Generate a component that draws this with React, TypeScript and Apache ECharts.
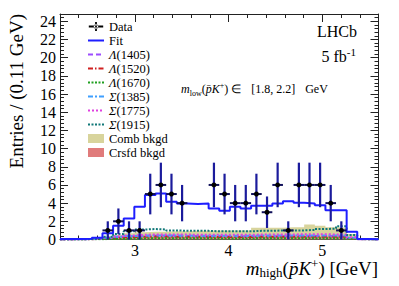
import React, { useEffect, useRef } from 'react';
import * as echarts from 'echarts';

// ---- binning ----
const X_MIN = 2.2;
const X_MAX = 5.6;
const N_BINS = 30;
const Y_MAX = 24.8;
const BIN_W = (X_MAX - X_MIN) / N_BINS;

// ---- data (per bin, 30 bins) ----
const dataCounts = [0, 0, 0, 0, 1, 2, 1, 1, 5, 6, 5, 4, 0, 0, 6, 5, 4, 4, 5, 3, 6, 1, 6, 6, 6, 4, 1, 0, 0, 0];
const fitValues = [0.05, 0.05, 0.08, 0.2, 0.7, 1.5, 2.3, 3.6, 4.9, 5.05, 4.15, 3.95, 3.9, 3.96, 3.41, 3.15, 3.6, 3.4, 3.7, 3.72, 3.96, 4.2, 4.03, 3.96, 3.77, 3.23, 3.23, 0.85, 0.05, 0.02];
const lambda1405 = [0.01, 0.02, 0.04, 0.08, 0.18, 0.28, 0.35, 0.4, 0.42, 0.42, 0.4, 0.38, 0.37, 0.36, 0.35, 0.35, 0.35, 0.35, 0.36, 0.36, 0.37, 0.37, 0.38, 0.38, 0.38, 0.37, 0.36, 0.15, 0.02, 0.01];
const lambda1520 = [0.01, 0.02, 0.03, 0.07, 0.15, 0.22, 0.28, 0.3, 0.32, 0.32, 0.31, 0.3, 0.29, 0.29, 0.28, 0.28, 0.28, 0.28, 0.29, 0.29, 0.3, 0.3, 0.3, 0.31, 0.31, 0.3, 0.29, 0.12, 0.02, 0.01];
const lambda1670 = [0.01, 0.01, 0.02, 0.03, 0.06, 0.09, 0.11, 0.12, 0.13, 0.13, 0.13, 0.13, 0.13, 0.13, 0.12, 0.12, 0.12, 0.12, 0.13, 0.13, 0.13, 0.13, 0.13, 0.13, 0.13, 0.13, 0.12, 0.06, 0.01, 0.01];
const sigma1385 = [0.01, 0.02, 0.05, 0.1, 0.2, 0.3, 0.38, 0.42, 0.45, 0.45, 0.44, 0.43, 0.42, 0.42, 0.41, 0.41, 0.42, 0.42, 0.43, 0.43, 0.44, 0.44, 0.45, 0.45, 0.45, 0.44, 0.43, 0.2, 0.02, 0.01];
const sigma1775 = [0.01, 0.02, 0.05, 0.1, 0.22, 0.35, 0.45, 0.52, 0.55, 0.56, 0.55, 0.54, 0.53, 0.52, 0.52, 0.52, 0.53, 0.53, 0.54, 0.55, 0.55, 0.56, 0.57, 0.57, 0.57, 0.56, 0.55, 0.25, 0.02, 0.01];
const sigma1915 = [0.02, 0.03, 0.05, 0.1, 0.3, 0.6, 0.9, 1.1, 1.15, 1.1, 1.0, 0.95, 0.95, 0.95, 0.9, 0.9, 0.9, 0.9, 0.95, 0.95, 1.0, 1.0, 1.0, 1.05, 1.15, 1.2, 1.45, 0.5, 0.05, 0.02];
const combBkgd = [0.05, 0.05, 0.08, 0.15, 0.3, 0.5, 0.7, 0.8, 0.85, 0.85, 0.9, 0.9, 0.95, 0.95, 1.0, 1.0, 1.0, 1.0, 1.3, 1.3, 1.3, 1.35, 1.35, 1.65, 1.5, 1.35, 1.3, 0.6, 0.1, 0.05];
const crsfdBkgd = [0, 0, 0.02, 0.05, 0.1, 0.15, 0.2, 0.25, 0.28, 0.3, 0.3, 0.3, 0.3, 0.3, 0.3, 0.3, 0.32, 0.32, 0.33, 0.33, 0.33, 0.33, 0.33, 0.33, 0.33, 0.32, 0.3, 0.15, 0.02, 0];

// ---- ticks ----
const xMajorTicks = [3, 4, 5];
const xMinorTicks = [2.4, 2.6, 2.8, 3.2, 3.4, 3.6, 3.8, 4.2, 4.4, 4.6, 4.8, 5.2, 5.4];
const yLabels = [0, 2, 4, 6, 8, 10, 12, 14, 16, 18, 20, 22, 24];
const yMinorTicks: number[] = [];
for (let i = 1; i * 0.4 < Y_MAX; i++) {
  if (i % 5 !== 0) yMinorTicks.push(Math.round(i * 0.4 * 10) / 10);
}

const SERIF = '"Liberation Serif", "Times New Roman", serif';
const FRAME = '#222';

const binLeft = (k: number) => X_MIN + k * BIN_W;
const stepData = (vals: number[]) => {
  const pts = vals.map((v, k) => [binLeft(k), v]);
  pts.push([X_MAX, vals[vals.length - 1]]);
  return pts;
};

const points = dataCounts
  .map((n, k) => [binLeft(k) + BIN_W / 2, n, Math.sqrt(n)])
  .filter((p) => p[1] > 0);

const components = [
  { name: 'Λ(1405)', vals: lambda1405, color: '#9d4dff', dash: [5, 3] },
  { name: 'Λ(1520)', vals: lambda1520, color: '#d02020', dash: [5, 2, 1.5, 2] },
  { name: 'Λ(1670)', vals: lambda1670, color: '#20a020', dash: [2, 1.5] },
  { name: 'Σ(1385)', vals: sigma1385, color: '#3f9fff', dash: [5, 2, 2, 2] },
  { name: 'Σ(1775)', vals: sigma1775, color: '#e040e0', dash: [2, 2] },
  { name: 'Σ(1915)', vals: sigma1915, color: '#107878', dash: [2, 1.5] },
];

function baseX(position: 'top' | 'bottom', major: boolean) {
  return {
    type: 'value',
    position,
    min: X_MIN,
    max: X_MAX,
    axisLine: { show: major, onZero: false, lineStyle: { color: FRAME, width: 1 } },
    axisTick: {
      show: true,
      inside: true,
      length: major ? 8 : 4,
      customValues: major ? xMajorTicks : xMinorTicks,
      lineStyle: { color: FRAME, width: 1 },
    },
    axisLabel: major && position === 'bottom'
      ? { show: true, customValues: xMajorTicks, fontFamily: SERIF, fontSize: 16, lineHeight: 14, color: '#000', margin: 4 }
      : { show: false },
    splitLine: { show: false },
  };
}

function baseY(position: 'left' | 'right', major: boolean) {
  return {
    type: 'value',
    position,
    min: 0,
    max: Y_MAX,
    axisLine: { show: major, onZero: false, lineStyle: { color: FRAME, width: 1 } },
    axisTick: {
      show: true,
      inside: true,
      length: major ? 8 : 4,
      customValues: major ? yLabels : yMinorTicks,
      lineStyle: { color: FRAME, width: 1 },
    },
    axisLabel: major && position === 'left'
      ? { show: true, customValues: yLabels, fontFamily: SERIF, fontSize: 16, color: '#000', margin: 4 }
      : { show: false },
    splitLine: { show: false },
  };
}

const greek = (name: string) =>
  name.startsWith('Λ') || name.startsWith('Σ') ? `{i|${name[0]}}${name.slice(1)}` : name;

const noSymbol = { opacity: 0 };

const option: any = {
  animation: false,
  backgroundColor: '#fff',
  grid: { left: 60, right: 20.5, top: 14, bottom: 46.5, containLabel: false, outerBoundsMode: 'none' },
  xAxis: [baseX('bottom', true), baseX('bottom', false), baseX('top', true), baseX('top', false)],
  yAxis: [baseY('left', true), baseY('left', false), baseY('right', true), baseY('right', false)],
  legend: {
    orient: 'vertical',
    left: 82,
    top: 15,
    itemWidth: 16,
    itemHeight: 9,
    itemGap: 1,
    selectedMode: false,
    textStyle: {
      fontFamily: SERIF,
      fontSize: 12.5,
      color: '#000',
      lineHeight: 12,
      rich: { i: { fontFamily: SERIF, fontSize: 12.5, fontStyle: 'italic', lineHeight: 12, color: '#000' } },
    },
    formatter: greek,
    data: [
      { name: 'Data', icon: 'path://M0 4H16V6H0Z M7 0H9V10H7Z M5.5 5A2.5 2.5 0 1 0 10.5 5A2.5 2.5 0 1 0 5.5 5Z', itemStyle: { color: '#000', opacity: 1 } },
      { name: 'Fit', itemStyle: noSymbol },
      ...components.map((c) => ({ name: c.name, itemStyle: noSymbol })),
      { name: 'Comb bkgd', icon: 'rect' },
      { name: 'Crsfd bkgd', icon: 'rect' },
    ],
  },
  series: [
    {
      type: 'line',
      name: 'Comb bkgd',
      data: stepData(combBkgd),
      step: 'end',
      symbol: 'none',
      lineStyle: { width: 0, color: '#d8d49c' },
      itemStyle: { color: '#d8d49c' },
      areaStyle: { color: '#d8d49c', opacity: 1 },
      z: 1,
    },
    {
      type: 'line',
      name: 'Crsfd bkgd',
      data: stepData(crsfdBkgd),
      step: 'end',
      symbol: 'none',
      lineStyle: { width: 0, color: '#e07b7b' },
      itemStyle: { color: '#e07b7b' },
      areaStyle: { color: '#e07b7b', opacity: 1 },
      z: 2,
    },
    ...components.map((c, i) => ({
      type: 'line',
      name: c.name,
      data: stepData(c.vals),
      step: 'end',
      symbol: 'none',
      lineStyle: { width: 2, color: c.color, type: c.dash },
      itemStyle: { color: c.color },
      z: 3 + i,
    })),
    {
      type: 'line',
      name: 'Fit',
      data: stepData(fitValues),
      step: 'end',
      symbol: 'none',
      lineStyle: { width: 2, color: '#1e1eff' },
      itemStyle: { color: '#1e1eff' },
      z: 10,
    },
    {
      type: 'custom',
      name: 'DataErr',
      data: points,
      encode: { x: 0, y: 1 },
      z: 11,
      renderItem: (params: any, api: any) => {
        const x = api.value(0);
        const y = api.value(1);
        const e = api.value(2);
        const c = api.coord([x, y]);
        const top = api.coord([x, y + e]);
        const bot = api.coord([x, Math.max(0, y - e)]);
        const l = api.coord([x - BIN_W / 2, y]);
        const r = api.coord([x + BIN_W / 2, y]);
        return {
          type: 'group',
          children: [
            { type: 'line', shape: { x1: c[0], y1: top[1], x2: c[0], y2: bot[1] }, style: { stroke: '#1b1b9c', lineWidth: 2.2 } },
            { type: 'line', shape: { x1: l[0], y1: c[1], x2: r[0], y2: c[1] }, style: { stroke: '#10105a', lineWidth: 2 } },
          ],
        };
      },
    },
    {
      type: 'scatter',
      name: 'Data',
      data: points.map((p) => [p[0], p[1]]),
      symbol: 'circle',
      symbolSize: 5,
      itemStyle: { color: '#000', opacity: 1 },
      z: 12,
    },
  ],
  graphic: [
    {
      type: 'text',
      x: 16,
      y: 14,
      rotation: Math.PI / 2,
      style: { text: 'Entries / (0.11 GeV)', fontFamily: SERIF, fontSize: 19, fill: '#000', align: 'right', verticalAlign: 'middle' },
    },
    {
      type: 'text',
      x: 357,
      y: 31.5,
      style: { text: 'LHCb', fontFamily: SERIF, fontSize: 16, fill: '#000', align: 'right', verticalAlign: 'middle' },
    },
    {
      type: 'text',
      x: 356,
      y: 56,
      style: {
        text: '{n|5 fb}{u|-1}',
        align: 'right',
        verticalAlign: 'middle',
        fill: '#000',
        rich: {
          n: { fontFamily: SERIF, fontSize: 16, lineHeight: 20, fill: '#000' },
          u: { fontFamily: SERIF, fontSize: 11, lineHeight: 12, verticalAlign: 'top', fill: '#000' },
        },
      },
    },
    {
      type: 'text',
      x: 181,
      y: 89,
      style: {
        text: '{m|m}{s|low}{n|(}{m|p\u0304}{m|K}{u|+}{n|) ∈}{b|[1.8, 2.2]}{c|GeV}',
        align: 'left',
        verticalAlign: 'middle',
        fill: '#000',
        rich: {
          m: { fontFamily: SERIF, fontSize: 12, fontStyle: 'italic', lineHeight: 16, fill: '#000' },
          n: { fontFamily: SERIF, fontSize: 12, lineHeight: 16, fill: '#000' },
          b: { fontFamily: SERIF, fontSize: 12, lineHeight: 16, fill: '#000', padding: [0, 0, 0, 10] },
          c: { fontFamily: SERIF, fontSize: 12, lineHeight: 16, fill: '#000', padding: [0, 0, 0, 10] },
          s: { fontFamily: SERIF, fontSize: 8, lineHeight: 9, verticalAlign: 'bottom', fill: '#000' },
          u: { fontFamily: SERIF, fontSize: 8, lineHeight: 11, verticalAlign: 'top', fill: '#000' },
        },
      },
    },
    {
      type: 'text',
      x: 378,
      y: 268,
      style: {
        text: '{m|m}{s|high}{n|(}{m|p\u0304}{m|K}{u|+}{n|) [GeV]}',
        align: 'right',
        verticalAlign: 'middle',
        fill: '#000',
        rich: {
          m: { fontFamily: SERIF, fontSize: 19, fontStyle: 'italic', lineHeight: 22, fill: '#000' },
          n: { fontFamily: SERIF, fontSize: 19, lineHeight: 22, fill: '#000' },
          s: { fontFamily: SERIF, fontSize: 13, lineHeight: 10, verticalAlign: 'bottom', fill: '#000' },
          u: { fontFamily: SERIF, fontSize: 13, lineHeight: 16, verticalAlign: 'top', fill: '#000' },
        },
      },
    },
  ],
};

export default function App() {
  const ref = useRef<HTMLDivElement>(null);
  useEffect(() => {
    if (!ref.current) return;
    const chart = echarts.init(ref.current, null, { renderer: 'svg' });
    chart.setOption(option);
    return () => chart.dispose();
  }, []);
  return <div ref={ref} style={{ position: 'absolute', left: 0, top: 0, width: 399, height: 286 }} />;
}
